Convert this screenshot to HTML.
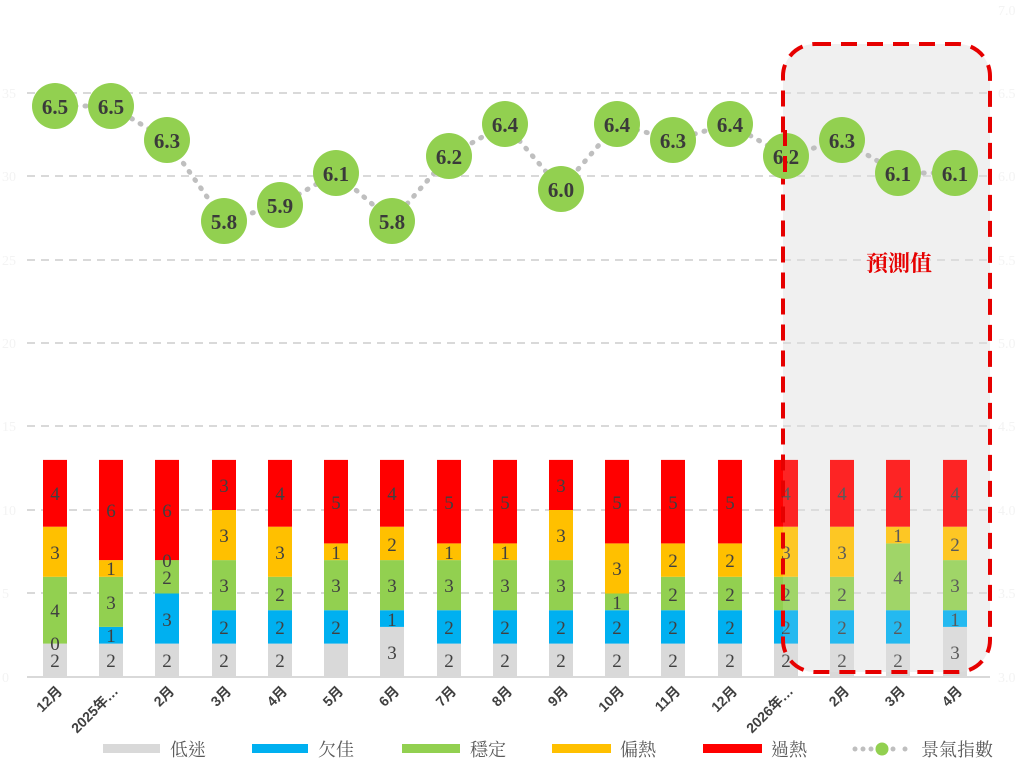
<!DOCTYPE html>
<html><head><meta charset="utf-8"><style>
html,body{margin:0;padding:0;background:#fff;}
svg{display:block;}
.t{font-family:"Liberation Serif","Noto Serif CJK SC",serif;font-size:19px;fill:#404040;text-anchor:middle;}
.c{font-family:"Liberation Serif","Noto Serif CJK SC",serif;font-size:21px;fill:#3a3a3a;text-anchor:middle;font-weight:bold;}
.x{font-family:"Liberation Sans","Noto Sans CJK TC",sans-serif;font-size:14px;font-weight:bold;fill:#404040;text-anchor:end;}
.l{font-family:"Liberation Serif","Noto Serif CJK TC",serif;font-size:18px;fill:#595959;}
.ax{font-family:"Liberation Serif",serif;font-size:14px;fill:#f3f3f3;}
</style></head><body>
<svg width="1024" height="782" viewBox="0 0 1024 782" xmlns="http://www.w3.org/2000/svg">
<rect x="783" y="44" width="207" height="628" rx="32" fill="#f0f0f0"/>
<g stroke="#d9d9d9" stroke-width="2" stroke-dasharray="8,6">
<line x1="27" y1="93" x2="990" y2="93"/><line x1="27" y1="176" x2="990" y2="176"/>
<line x1="27" y1="260" x2="990" y2="260"/><line x1="27" y1="343" x2="990" y2="343"/>
<line x1="27" y1="426" x2="990" y2="426"/><line x1="27" y1="510" x2="990" y2="510"/>
<line x1="27" y1="593" x2="990" y2="593"/>
</g>
<line x1="27" y1="677" x2="990" y2="677" stroke="#d9d9d9" stroke-width="2"/>
<g class="ax"><text x="2" y="98">35</text><text x="2" y="181">30</text><text x="2" y="265">25</text><text x="2" y="348">20</text><text x="2" y="431">15</text><text x="2" y="515">10</text><text x="2" y="598">5</text><text x="2" y="682">0</text>
<text x="998" y="15">7.0</text><text x="998" y="98">6.5</text><text x="998" y="181">6.0</text><text x="998" y="265">5.5</text><text x="998" y="348">5.0</text><text x="998" y="431">4.5</text><text x="998" y="515">4.0</text><text x="998" y="598">3.5</text><text x="998" y="682">3.0</text></g>

<g transform="translate(43,0)">
<rect y="643.6" width="24" height="33.4" fill="#d9d9d9"/><rect y="576.8" width="24" height="66.8" fill="#92d050"/><rect y="526.7" width="24" height="50.1" fill="#ffc000"/><rect y="459.9" width="24" height="66.8" fill="#ff0000"/>
<text class="t" x="12" y="667">2</text><text class="t" x="12" y="650">0</text><text class="t" x="12" y="617">4</text><text class="t" x="12" y="559">3</text><text class="t" x="12" y="500">4</text></g>
<g transform="translate(99,0)">
<rect y="643.6" width="24" height="33.4" fill="#d9d9d9"/><rect y="626.9" width="24" height="16.7" fill="#00b0f0"/><rect y="576.8" width="24" height="50.1" fill="#92d050"/><rect y="560.1" width="24" height="16.7" fill="#ffc000"/><rect y="459.9" width="24" height="100.2" fill="#ff0000"/>
<text class="t" x="12" y="667">2</text><text class="t" x="12" y="642">1</text><text class="t" x="12" y="609">3</text><text class="t" x="12" y="575">1</text><text class="t" x="12" y="517">6</text></g>
<g transform="translate(155,0)">
<rect y="643.6" width="24" height="33.4" fill="#d9d9d9"/><rect y="593.5" width="24" height="50.1" fill="#00b0f0"/><rect y="560.1" width="24" height="33.4" fill="#92d050"/><rect y="459.9" width="24" height="100.2" fill="#ff0000"/>
<text class="t" x="12" y="667">2</text><text class="t" x="12" y="626">3</text><text class="t" x="12" y="584">2</text><text class="t" x="12" y="567">0</text><text class="t" x="12" y="517">6</text></g>
<g transform="translate(212,0)">
<rect y="643.6" width="24" height="33.4" fill="#d9d9d9"/><rect y="610.2" width="24" height="33.4" fill="#00b0f0"/><rect y="560.1" width="24" height="50.1" fill="#92d050"/><rect y="510" width="24" height="50.1" fill="#ffc000"/><rect y="459.9" width="24" height="50.1" fill="#ff0000"/>
<text class="t" x="12" y="667">2</text><text class="t" x="12" y="634">2</text><text class="t" x="12" y="592">3</text><text class="t" x="12" y="542">3</text><text class="t" x="12" y="492">3</text></g>
<g transform="translate(268,0)">
<rect y="643.6" width="24" height="33.4" fill="#d9d9d9"/><rect y="610.2" width="24" height="33.4" fill="#00b0f0"/><rect y="576.8" width="24" height="33.4" fill="#92d050"/><rect y="526.7" width="24" height="50.1" fill="#ffc000"/><rect y="459.9" width="24" height="66.8" fill="#ff0000"/>
<text class="t" x="12" y="667">2</text><text class="t" x="12" y="634">2</text><text class="t" x="12" y="601">2</text><text class="t" x="12" y="559">3</text><text class="t" x="12" y="500">4</text></g>
<g transform="translate(324,0)">
<rect y="643.6" width="24" height="33.4" fill="#d9d9d9"/><rect y="610.2" width="24" height="33.4" fill="#00b0f0"/><rect y="560.1" width="24" height="50.1" fill="#92d050"/><rect y="543.4" width="24" height="16.7" fill="#ffc000"/><rect y="459.9" width="24" height="83.5" fill="#ff0000"/>
<text class="t" x="12" y="634">2</text><text class="t" x="12" y="592">3</text><text class="t" x="12" y="559">1</text><text class="t" x="12" y="509">5</text></g>
<g transform="translate(380,0)">
<rect y="626.9" width="24" height="50.1" fill="#d9d9d9"/><rect y="610.2" width="24" height="16.7" fill="#00b0f0"/><rect y="560.1" width="24" height="50.1" fill="#92d050"/><rect y="526.7" width="24" height="33.4" fill="#ffc000"/><rect y="459.9" width="24" height="66.8" fill="#ff0000"/>
<text class="t" x="12" y="659">3</text><text class="t" x="12" y="626">1</text><text class="t" x="12" y="592">3</text><text class="t" x="12" y="551">2</text><text class="t" x="12" y="500">4</text></g>
<g transform="translate(437,0)">
<rect y="643.6" width="24" height="33.4" fill="#d9d9d9"/><rect y="610.2" width="24" height="33.4" fill="#00b0f0"/><rect y="560.1" width="24" height="50.1" fill="#92d050"/><rect y="543.4" width="24" height="16.7" fill="#ffc000"/><rect y="459.9" width="24" height="83.5" fill="#ff0000"/>
<text class="t" x="12" y="667">2</text><text class="t" x="12" y="634">2</text><text class="t" x="12" y="592">3</text><text class="t" x="12" y="559">1</text><text class="t" x="12" y="509">5</text></g>
<g transform="translate(493,0)">
<rect y="643.6" width="24" height="33.4" fill="#d9d9d9"/><rect y="610.2" width="24" height="33.4" fill="#00b0f0"/><rect y="560.1" width="24" height="50.1" fill="#92d050"/><rect y="543.4" width="24" height="16.7" fill="#ffc000"/><rect y="459.9" width="24" height="83.5" fill="#ff0000"/>
<text class="t" x="12" y="667">2</text><text class="t" x="12" y="634">2</text><text class="t" x="12" y="592">3</text><text class="t" x="12" y="559">1</text><text class="t" x="12" y="509">5</text></g>
<g transform="translate(549,0)">
<rect y="643.6" width="24" height="33.4" fill="#d9d9d9"/><rect y="610.2" width="24" height="33.4" fill="#00b0f0"/><rect y="560.1" width="24" height="50.1" fill="#92d050"/><rect y="510" width="24" height="50.1" fill="#ffc000"/><rect y="459.9" width="24" height="50.1" fill="#ff0000"/>
<text class="t" x="12" y="667">2</text><text class="t" x="12" y="634">2</text><text class="t" x="12" y="592">3</text><text class="t" x="12" y="542">3</text><text class="t" x="12" y="492">3</text></g>
<g transform="translate(605,0)">
<rect y="643.6" width="24" height="33.4" fill="#d9d9d9"/><rect y="610.2" width="24" height="33.4" fill="#00b0f0"/><rect y="593.5" width="24" height="16.7" fill="#92d050"/><rect y="543.4" width="24" height="50.1" fill="#ffc000"/><rect y="459.9" width="24" height="83.5" fill="#ff0000"/>
<text class="t" x="12" y="667">2</text><text class="t" x="12" y="634">2</text><text class="t" x="12" y="609">1</text><text class="t" x="12" y="575">3</text><text class="t" x="12" y="509">5</text></g>
<g transform="translate(661,0)">
<rect y="643.6" width="24" height="33.4" fill="#d9d9d9"/><rect y="610.2" width="24" height="33.4" fill="#00b0f0"/><rect y="576.8" width="24" height="33.4" fill="#92d050"/><rect y="543.4" width="24" height="33.4" fill="#ffc000"/><rect y="459.9" width="24" height="83.5" fill="#ff0000"/>
<text class="t" x="12" y="667">2</text><text class="t" x="12" y="634">2</text><text class="t" x="12" y="601">2</text><text class="t" x="12" y="567">2</text><text class="t" x="12" y="509">5</text></g>
<g transform="translate(718,0)">
<rect y="643.6" width="24" height="33.4" fill="#d9d9d9"/><rect y="610.2" width="24" height="33.4" fill="#00b0f0"/><rect y="576.8" width="24" height="33.4" fill="#92d050"/><rect y="543.4" width="24" height="33.4" fill="#ffc000"/><rect y="459.9" width="24" height="83.5" fill="#ff0000"/>
<text class="t" x="12" y="667">2</text><text class="t" x="12" y="634">2</text><text class="t" x="12" y="601">2</text><text class="t" x="12" y="567">2</text><text class="t" x="12" y="509">5</text></g>
<g transform="translate(774,0)">
<rect y="643.6" width="24" height="33.4" fill="#d9d9d9"/><rect y="610.2" width="24" height="33.4" fill="#00b0f0"/><rect y="576.8" width="24" height="33.4" fill="#92d050"/><rect y="526.7" width="24" height="50.1" fill="#ffc000"/><rect y="459.9" width="24" height="66.8" fill="#ff0000"/>
<text class="t" x="12" y="667">2</text><text class="t" x="12" y="634">2</text><text class="t" x="12" y="601">2</text><text class="t" x="12" y="559">3</text><text class="t" x="12" y="500">4</text></g>
<g transform="translate(830,0)">
<rect y="643.6" width="24" height="33.4" fill="#d9d9d9"/><rect y="610.2" width="24" height="33.4" fill="#00b0f0"/><rect y="576.8" width="24" height="33.4" fill="#92d050"/><rect y="526.7" width="24" height="50.1" fill="#ffc000"/><rect y="459.9" width="24" height="66.8" fill="#ff0000"/>
<text class="t" x="12" y="667">2</text><text class="t" x="12" y="634">2</text><text class="t" x="12" y="601">2</text><text class="t" x="12" y="559">3</text><text class="t" x="12" y="500">4</text></g>
<g transform="translate(886,0)">
<rect y="643.6" width="24" height="33.4" fill="#d9d9d9"/><rect y="610.2" width="24" height="33.4" fill="#00b0f0"/><rect y="543.4" width="24" height="66.8" fill="#92d050"/><rect y="526.7" width="24" height="16.7" fill="#ffc000"/><rect y="459.9" width="24" height="66.8" fill="#ff0000"/>
<text class="t" x="12" y="667">2</text><text class="t" x="12" y="634">2</text><text class="t" x="12" y="584">4</text><text class="t" x="12" y="542">1</text><text class="t" x="12" y="500">4</text></g>
<g transform="translate(943,0)">
<rect y="626.9" width="24" height="50.1" fill="#d9d9d9"/><rect y="610.2" width="24" height="16.7" fill="#00b0f0"/><rect y="560.1" width="24" height="50.1" fill="#92d050"/><rect y="526.7" width="24" height="33.4" fill="#ffc000"/><rect y="459.9" width="24" height="66.8" fill="#ff0000"/>
<text class="t" x="12" y="659">3</text><text class="t" x="12" y="626">1</text><text class="t" x="12" y="592">3</text><text class="t" x="12" y="551">2</text><text class="t" x="12" y="500">4</text></g>

<rect x="783" y="44" width="207" height="628" rx="32" fill="#f0f0f0" fill-opacity="0.15" stroke="#e60000" stroke-width="4" stroke-dasharray="16,10"/>

<polyline fill="none" stroke="#bfbfbf" stroke-width="5" stroke-dasharray="1,9" stroke-linecap="round"
 points="55,106 111,106 167,140 224,221 280,205 336,173 392,221 449,156 505,124 561,189 617,124 673,140 730,124 786,156 842,140 898,173 955,173"/>
<g fill="#92d050">
<circle cx="55" cy="106" r="23"/><circle cx="111" cy="106" r="23"/><circle cx="167" cy="140" r="23"/><circle cx="224" cy="221" r="23"/><circle cx="280" cy="205" r="23"/><circle cx="336" cy="173" r="23"/><circle cx="392" cy="221" r="23"/><circle cx="449" cy="156" r="23"/><circle cx="505" cy="124" r="23"/><circle cx="561" cy="189" r="23"/><circle cx="617" cy="124" r="23"/><circle cx="673" cy="140" r="23"/><circle cx="730" cy="124" r="23"/><circle cx="786" cy="156" r="23"/><circle cx="842" cy="140" r="23"/><circle cx="898" cy="173" r="23"/><circle cx="955" cy="173" r="23"/>
</g>
<g class="c">
<text x="55" y="114">6.5</text><text x="111" y="114">6.5</text><text x="167" y="148">6.3</text><text x="224" y="229">5.8</text><text x="280" y="213">5.9</text><text x="336" y="181">6.1</text><text x="392" y="229">5.8</text><text x="449" y="164">6.2</text><text x="505" y="132">6.4</text><text x="561" y="197">6.0</text><text x="617" y="132">6.4</text><text x="673" y="148">6.3</text><text x="730" y="132">6.4</text><text x="786" y="164">6.2</text><text x="842" y="148">6.3</text><text x="898" y="181">6.1</text><text x="955" y="181">6.1</text>
</g>
<line x1="785" y1="130" x2="785" y2="182" stroke="#e60000" stroke-width="4" stroke-dasharray="16,10"/>
<text x="899" y="271" font-family="'Noto Serif CJK TC','Noto Sans CJK TC',serif" font-size="22" font-weight="bold" fill="#e60000" text-anchor="middle">預測值</text>

<g class="x">
<text transform="translate(63,692) rotate(-45)">12月</text>
<text transform="translate(119,692) rotate(-45)">2025年…</text>
<text transform="translate(175,692) rotate(-45)">2月</text>
<text transform="translate(232,692) rotate(-45)">3月</text>
<text transform="translate(288,692) rotate(-45)">4月</text>
<text transform="translate(344,692) rotate(-45)">5月</text>
<text transform="translate(400,692) rotate(-45)">6月</text>
<text transform="translate(457,692) rotate(-45)">7月</text>
<text transform="translate(513,692) rotate(-45)">8月</text>
<text transform="translate(569,692) rotate(-45)">9月</text>
<text transform="translate(625,692) rotate(-45)">10月</text>
<text transform="translate(681,692) rotate(-45)">11月</text>
<text transform="translate(738,692) rotate(-45)">12月</text>
<text transform="translate(794,692) rotate(-45)">2026年…</text>
<text transform="translate(850,692) rotate(-45)">2月</text>
<text transform="translate(906,692) rotate(-45)">3月</text>
<text transform="translate(963,692) rotate(-45)">4月</text>
</g>

<rect x="103" y="744" width="57" height="9" fill="#d9d9d9"/><text class="l" x="170" y="756">低迷</text>
<rect x="252" y="744" width="56" height="9" fill="#00b0f0"/><text class="l" x="318" y="756">欠佳</text>
<rect x="402" y="744" width="58" height="9" fill="#92d050"/><text class="l" x="470" y="756">穩定</text>
<rect x="552" y="744" width="59" height="9" fill="#ffc000"/><text class="l" x="620" y="756">偏熱</text>
<rect x="703" y="744" width="59" height="9" fill="#ff0000"/><text class="l" x="771" y="756">過熱</text>
<g fill="#bfbfbf"><circle cx="855" cy="749" r="2.5"/><circle cx="863" cy="749" r="2.5"/><circle cx="871" cy="749" r="2.5"/><circle cx="893" cy="749" r="2.5"/><circle cx="905" cy="749" r="2.5"/></g>
<circle cx="882" cy="749" r="6.5" fill="#92d050"/>
<text class="l" x="921" y="756">景氣指數</text>
</svg>
</body></html>
